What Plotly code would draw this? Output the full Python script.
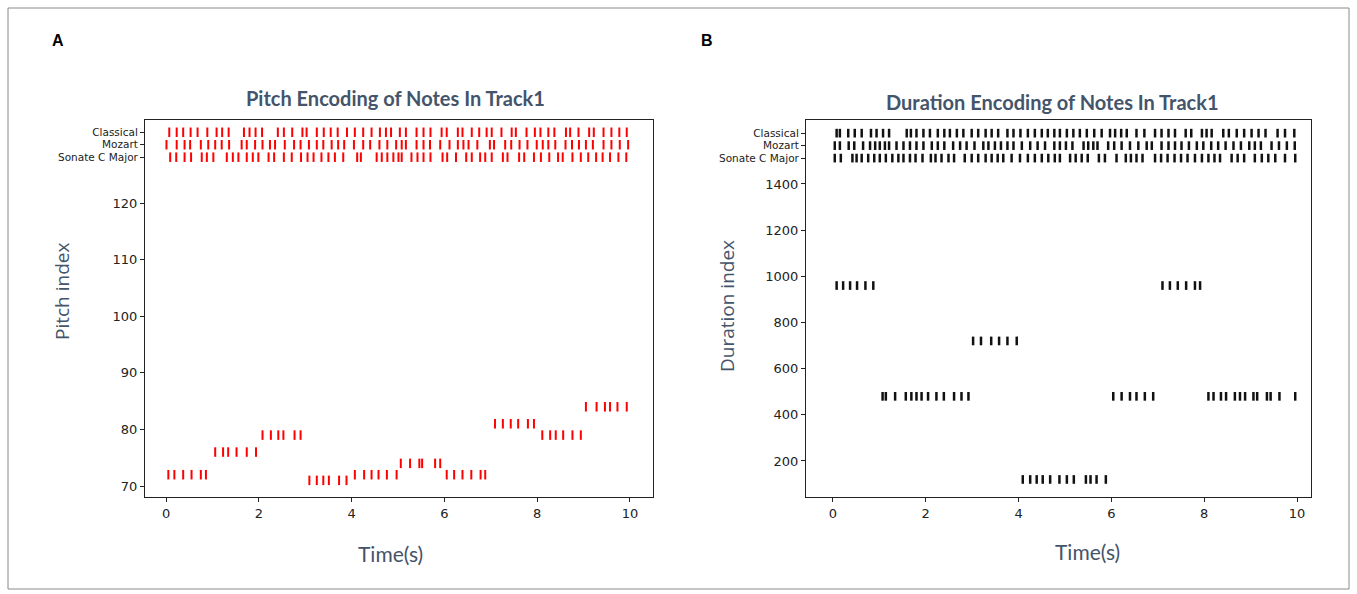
import plotly.graph_objects as go

# ---------------- DATA ----------------
# Panel A: pitch of each note in Track1 (time in seconds)
pitch_times = [0.05, 0.18, 0.37, 0.55, 0.75, 0.86,
               1.06, 1.23, 1.34, 1.52, 1.74, 1.94,
               2.08, 2.26, 2.42, 2.53, 2.77, 2.90,
               3.09, 3.25, 3.39, 3.51, 3.73, 3.89,
               4.07, 4.27, 4.43, 4.58, 4.76, 4.97,
               5.06, 5.26, 5.46, 5.52, 5.80, 5.91,
               6.05, 6.21, 6.39, 6.58, 6.78, 6.88,
               7.09, 7.26, 7.43, 7.59, 7.80, 7.93,
               8.11, 8.28, 8.40, 8.56, 8.76, 8.94,
               9.05, 9.28, 9.46, 9.57, 9.73, 9.93]
pitch_values = [72] * 6 + [76] * 6 + [79] * 6 + [71] * 6 + [72] * 6 + \
               [74] * 6 + [72] * 6 + [81] * 6 + [79] * 6 + [84] * 6

# Panel B: duration of each note in Track1
dur_times = [0.08, 0.22, 0.37, 0.52, 0.70, 0.87,
             1.07, 1.14, 1.34, 1.57, 1.69, 1.80, 1.91, 2.05, 2.23, 2.39, 2.61, 2.77, 2.92,
             3.02, 3.19, 3.41, 3.58, 3.76, 3.96,
             4.09, 4.25, 4.39, 4.52, 4.68, 4.88, 5.04, 5.19, 5.45, 5.55, 5.68, 5.88,
             6.04, 6.22, 6.40, 6.54, 6.72, 6.90,
             7.10, 7.26, 7.43, 7.61, 7.80, 7.91,
             8.09, 8.20, 8.36, 8.47, 8.66, 8.77, 8.88, 9.06, 9.14, 9.35, 9.43, 9.62, 9.96]
dur_values = [960] * 6 + [480] * 13 + [720] * 6 + [120] * 12 + [480] * 6 + [960] * 6 + [480] * 13

row_names = ["Classical", "Mozart", "Sonate C Major"]

# event times of the three reference rows, panel A
a_classical = [0.07, 0.23, 0.37, 0.53, 0.68, 0.89, 1.09, 1.21, 1.35, 1.68, 1.80, 1.93, 2.07,
               2.41, 2.54, 2.72, 2.94, 3.03, 3.25, 3.40, 3.55, 3.70, 3.90, 4.07, 4.25, 4.43,
               4.61, 4.74, 4.85, 5.04, 5.17, 5.40, 5.55, 5.70, 5.94, 6.05, 6.29, 6.39, 6.59,
               6.75, 6.91, 7.02, 7.23, 7.45, 7.54, 7.77, 7.95, 8.07, 8.24, 8.37, 8.62, 8.71,
               8.89, 9.12, 9.22, 9.43, 9.60, 9.77, 9.93]
a_mozart = [0.01, 0.23, 0.40, 0.52, 0.75, 0.91, 1.06, 1.20, 1.36, 1.63, 1.74, 1.92, 2.08,
            2.24, 2.35, 2.56, 2.76, 2.90, 3.08, 3.25, 3.39, 3.57, 3.71, 3.84, 4.05, 4.25,
            4.40, 4.60, 4.77, 4.96, 5.08, 5.17, 5.40, 5.55, 5.69, 5.91, 6.11, 6.29, 6.41,
            6.52, 6.71, 6.98, 7.07, 7.31, 7.44, 7.62, 7.79, 7.99, 8.12, 8.24, 8.39, 8.61,
            8.75, 8.90, 9.05, 9.20, 9.43, 9.60, 9.78, 9.96]
a_sonate = [0.09, 0.22, 0.40, 0.54, 0.77, 0.88, 1.02, 1.31, 1.44, 1.56, 1.74, 1.87, 1.99,
            2.21, 2.33, 2.54, 2.71, 2.91, 3.05, 3.18, 3.35, 3.50, 3.64, 3.82, 4.12, 4.20,
            4.54, 4.65, 4.77, 4.90, 5.01, 5.08, 5.29, 5.42, 5.55, 5.70, 5.96, 6.06, 6.25,
            6.47, 6.59, 6.77, 6.88, 7.02, 7.26, 7.36, 7.61, 7.72, 7.93, 8.08, 8.26, 8.45,
            8.55, 8.76, 8.94, 9.10, 9.27, 9.41, 9.57, 9.75, 9.92]

# event times of the three reference rows, panel B
b_classical = [0.08, 0.15, 0.33, 0.47, 0.62, 0.82, 0.94, 1.08, 1.21, 1.59, 1.68, 1.80, 1.95,
               2.09, 2.26, 2.40, 2.52, 2.67, 2.81, 2.99, 3.13, 3.29, 3.42, 3.56, 3.76, 3.89,
               4.04, 4.20, 4.35, 4.50, 4.63, 4.77, 4.89, 5.04, 5.18, 5.32, 5.47, 5.63, 5.79,
               5.97, 6.08, 6.21, 6.33, 6.54, 6.71, 6.94, 7.08, 7.23, 7.37, 7.60, 7.72, 7.95,
               8.05, 8.16, 8.41, 8.53, 8.70, 8.86, 9.02, 9.17, 9.32, 9.58, 9.74, 9.94]
b_mozart = [0.04, 0.15, 0.34, 0.46, 0.65, 0.80, 0.91, 1.01, 1.12, 1.21, 1.37, 1.52, 1.66,
            1.80, 1.95, 2.13, 2.26, 2.40, 2.59, 2.74, 2.88, 3.05, 3.24, 3.35, 3.49, 3.62,
            3.76, 3.89, 4.07, 4.25, 4.41, 4.57, 4.77, 4.89, 5.02, 5.16, 5.40, 5.50, 5.61,
            5.70, 5.93, 6.06, 6.22, 6.40, 6.58, 6.76, 6.87, 7.08, 7.23, 7.37, 7.51, 7.67,
            7.84, 7.98, 8.15, 8.30, 8.46, 8.63, 8.79, 8.97, 9.09, 9.22, 9.45, 9.61, 9.78, 9.95]
b_sonate = [0.04, 0.17, 0.42, 0.51, 0.62, 0.76, 0.89, 1.01, 1.14, 1.28, 1.41, 1.52, 1.66,
            1.78, 1.93, 2.11, 2.21, 2.34, 2.49, 2.61, 2.84, 2.99, 3.13, 3.29, 3.42, 3.55,
            3.67, 3.85, 4.03, 4.20, 4.35, 4.50, 4.64, 4.78, 4.89, 5.11, 5.23, 5.36, 5.49,
            5.73, 5.86, 6.11, 6.31, 6.42, 6.54, 6.67, 6.94, 7.07, 7.21, 7.36, 7.50, 7.64,
            7.80, 7.95, 8.09, 8.22, 8.34, 8.59, 8.72, 8.86, 9.09, 9.24, 9.38, 9.53, 9.74, 9.96]

# levels at which the reference rows are drawn
a_row_levels = [132.5, 130.3, 128.1]
b_row_levels = [1620, 1566, 1512]

x_ticks = [0, 2, 4, 6, 8, 10]
a_y_ticks = [70, 80, 90, 100, 110, 120]
b_y_ticks = [200, 400, 600, 800, 1000, 1200, 1400]

# ---------------- FIGURE ----------------
W, H = 1357, 594
def px(x):
    return x / W
def py(y):
    return 1 - y / H

RED = "#ff0000"
BLACK = "#111111"
TITLE_C = "#44546A"

fig = go.Figure()

def ev_trace(xs, ys, color, xa, ya, size, width):
    return go.Scatter(x=xs, y=ys, mode="markers", xaxis=xa, yaxis=ya,
                      marker=dict(symbol="line-ns", size=size,
                                  line=dict(color=color, width=width)),
                      hoverinfo="x+y", showlegend=False)

# panel A
fig.add_trace(ev_trace(pitch_times, pitch_values, RED, "x", "y", 6.8, 2))
for times, lvl in zip([a_classical, a_mozart, a_sonate], a_row_levels):
    fig.add_trace(ev_trace(times, [lvl] * len(times), RED, "x", "y3", 6.8, 2))

# panel B
fig.add_trace(ev_trace(dur_times, dur_values, BLACK, "x2", "y2", 6.2, 2.5))
for times, lvl in zip([b_classical, b_mozart, b_sonate], b_row_levels):
    fig.add_trace(ev_trace(times, [lvl] * len(times), BLACK, "x2", "y4", 6.2, 2.5))

tick_font = dict(family="DejaVu Sans", size=13, color="#222222")
cat_font = dict(family="DejaVu Sans", size=10.5, color="#222222")

ax_common = dict(showgrid=False, zeroline=False, showline=True, mirror=True,
                 linecolor="#222222", linewidth=1, ticks="outside", ticklen=4,
                 tickcolor="#222222", tickfont=tick_font)

a_yrange = [68.06, 134.67]
b_yrange = [44, 1677]
y_dom = [py(497), py(120)]

fig.update_layout(
    width=W, height=H,
    margin=dict(l=0, r=0, t=0, b=0),
    paper_bgcolor="white", plot_bgcolor="white",
    showlegend=False,
    xaxis=dict(domain=[px(145), px(653)], range=[-0.453, 10.496], anchor="y",
               tickvals=x_ticks, **ax_common),
    yaxis=dict(domain=y_dom, range=a_yrange, anchor="x",
               tickvals=a_y_ticks, **ax_common),
    yaxis3=dict(overlaying="y", anchor="x", range=a_yrange, side="left",
                tickvals=a_row_levels, ticktext=row_names, showgrid=False,
                zeroline=False, showline=False, ticks="outside", ticklen=4,
                tickcolor="#222222", tickfont=cat_font),
    xaxis2=dict(domain=[px(806), px(1311)], range=[-0.58, 10.30], anchor="y2",
                tickvals=x_ticks, **ax_common),
    yaxis2=dict(domain=y_dom, range=b_yrange, anchor="x2",
                tickvals=b_y_ticks, **ax_common),
    yaxis4=dict(overlaying="y2", anchor="x2", range=b_yrange, side="left",
                tickvals=b_row_levels, ticktext=row_names, showgrid=False,
                zeroline=False, showline=False, ticks="outside", ticklen=4,
                tickcolor="#222222", tickfont=cat_font),
)

# outer frame
fig.add_shape(type="rect", xref="paper", yref="paper",
              x0=px(8), x1=px(1349), y0=py(589), y1=py(8),
              line=dict(color="#8a8a8a", width=1), fillcolor="rgba(0,0,0,0)")

def ann(text, x, y, font, angle=0):
    fig.add_annotation(text=text, xref="paper", yref="paper", x=px(x), y=py(y),
                       xanchor="center", yanchor="middle", showarrow=False,
                       font=font, textangle=angle)

title_font = dict(family="Lato", size=20, color=TITLE_C)
ann("<b>Pitch Encoding of Notes In Track1</b>", 395, 98, title_font)
ann("<b>Duration Encoding of Notes In Track1</b>", 1052, 102, title_font)

ytitle_font = dict(family="Open Sans", size=19, color=TITLE_C)
ann("Pitch index", 62, 292, ytitle_font, -90)
ann("Duration index", 727, 306, ytitle_font, -90)

xtitle_font = dict(family="Lato", size=21, color=TITLE_C)
ann("Time(s)", 390, 553, xtitle_font)
ann("Time(s)", 1087, 551, xtitle_font)

label_font = dict(family="Liberation Sans", size=16, color="black")
ann("<b>A</b>", 58, 40, label_font)
ann("<b>B</b>", 707, 40, label_font)

fig.write_html("out.html", config={"displayModeBar": False},
               post_script="document.body.style.margin='0';document.body.style.overflow='hidden';")
